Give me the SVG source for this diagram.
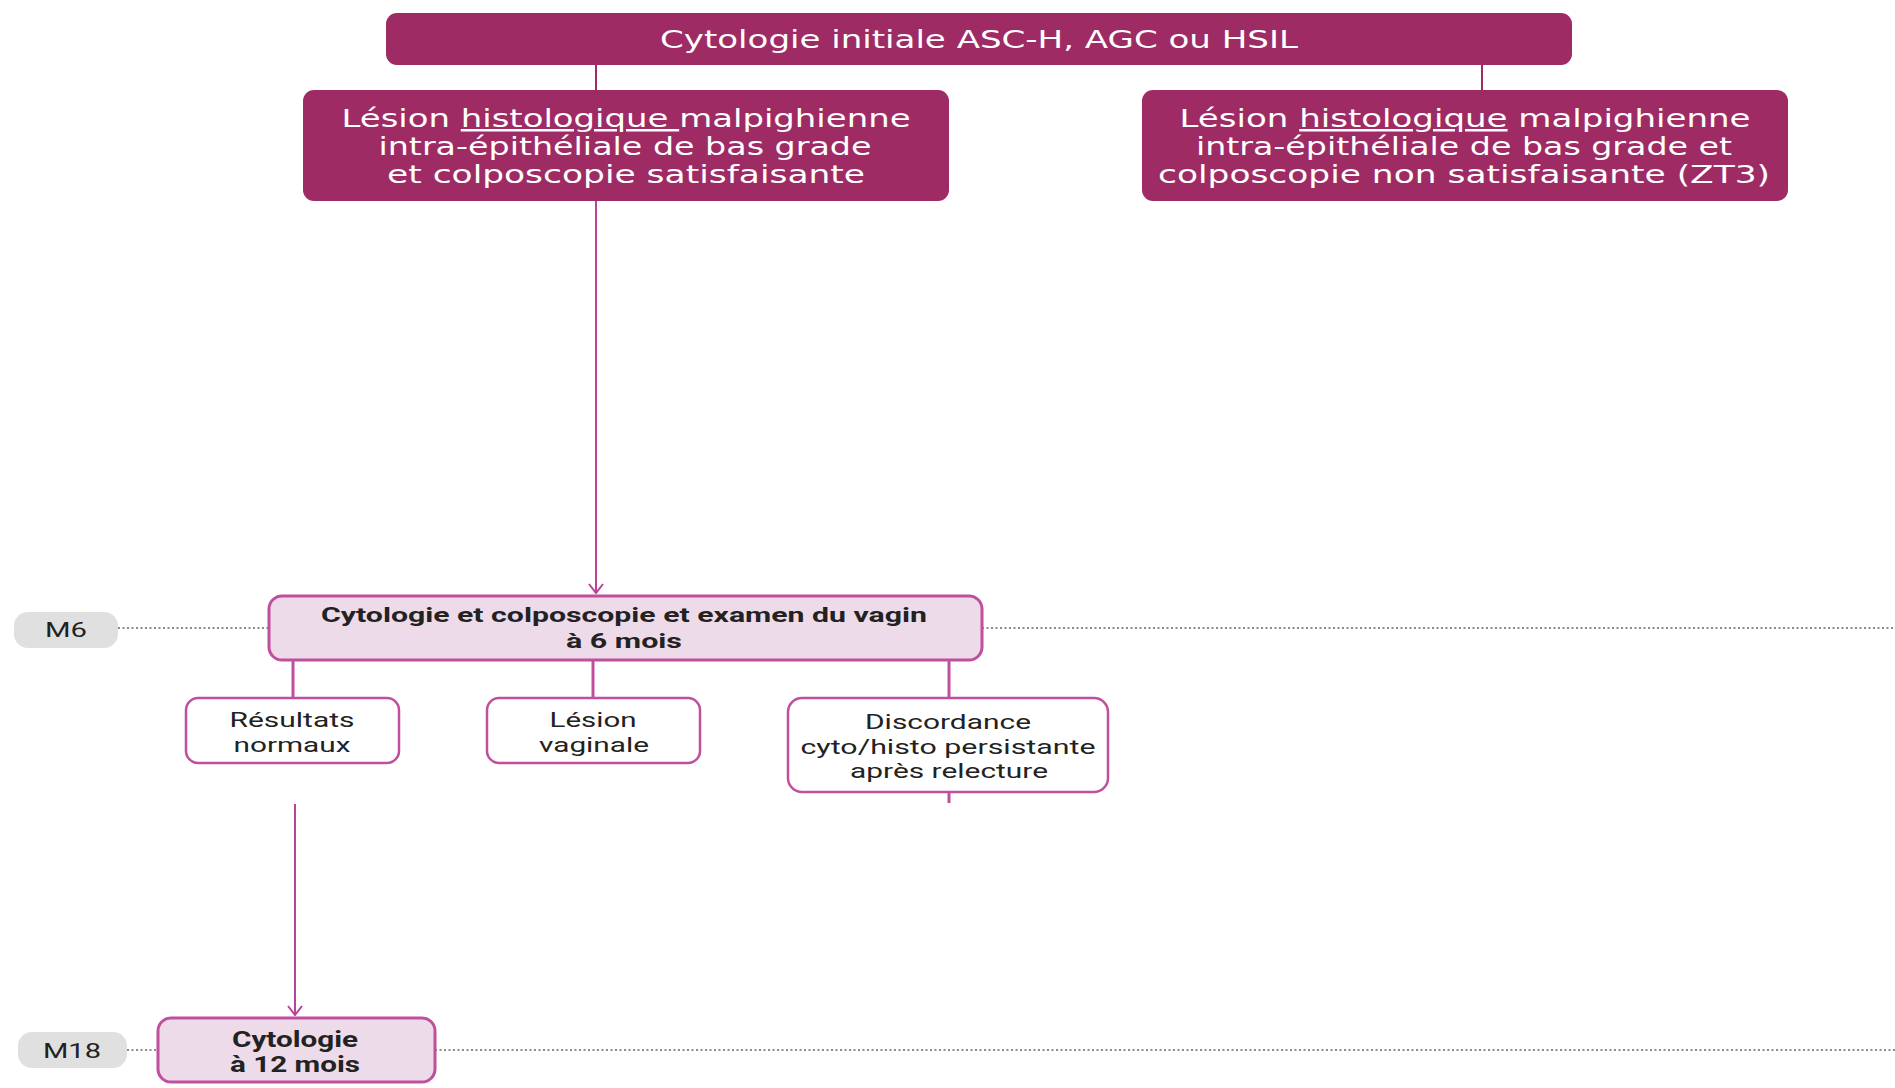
<svg xmlns="http://www.w3.org/2000/svg" width="1895" height="1088" viewBox="0 0 1895 1088">
<defs>
<style>
.dark{fill:#9e2b63;}
.wt{fill:#ffffff;font-family:"DejaVu Sans","Roboto",sans-serif;text-anchor:middle;}
.pk{fill:#eddbea;stroke:#c0509e;stroke-width:3;}
.wh{fill:#ffffff;stroke:#c0509e;stroke-width:2.5;}
.bk{fill:#222222;font-family:"Roboto","Liberation Sans",sans-serif;text-anchor:middle;}
.lab{fill:#e0e0e0;}
.dot{stroke:#666666;stroke-width:1.6;stroke-dasharray:2 2.5;fill:none;}
.c1{stroke:#9e2b63;stroke-width:2;fill:none;}
.c2{stroke:#c0509e;stroke-width:3;fill:none;}
.c3{stroke:#b8449a;stroke-width:2;fill:none;}
</style>
<marker id="arr" viewBox="0 0 16 11" refX="8" refY="10" markerWidth="16" markerHeight="11" markerUnits="userSpaceOnUse" orient="0">
<path d="M1 1 L8 10 L15 1" fill="none" stroke="#b8449a" stroke-width="2"/>
</marker>
</defs>
<rect width="1895" height="1088" fill="#ffffff"/>

<g id="timeline">
<line class="dot" x1="118" y1="628" x2="269" y2="628"/>
<line class="dot" x1="982" y1="628" x2="1895" y2="628"/>
<line class="dot" x1="127" y1="1050" x2="157" y2="1050"/>
<line class="dot" x1="435" y1="1050" x2="1895" y2="1050"/>
</g>

<g id="connectors">
<line class="c1" x1="596" y1="65" x2="596" y2="91"/>
<line class="c1" x1="1482" y1="65" x2="1482" y2="91"/>
<line class="c3" x1="596" y1="201" x2="596" y2="593" marker-end="url(#arr)"/>
<line class="c2" x1="293" y1="660" x2="293" y2="698"/>
<line class="c2" x1="593" y1="660" x2="593" y2="698"/>
<line class="c2" x1="949" y1="660" x2="949" y2="698"/>
<line class="c2" x1="949" y1="792" x2="949" y2="803"/>
<line class="c3" x1="295" y1="804" x2="295" y2="1015" marker-end="url(#arr)"/>
</g>

<g id="label-m6">
<rect class="lab" x="14" y="612" width="104" height="36" rx="14"/>
<text class="bk" x="66" y="637" font-size="21" textLength="42" lengthAdjust="spacingAndGlyphs">M6</text>
</g>
<g id="label-m18">
<rect class="lab" x="18" y="1032" width="109" height="36" rx="14"/>
<text class="bk" x="72" y="1058" font-size="21" textLength="58" lengthAdjust="spacingAndGlyphs">M18</text>
</g>

<g id="n-top">
<rect class="dark" x="386" y="13" width="1186" height="52" rx="11"/>
<text class="wt" x="979" y="48" font-size="24" textLength="638" lengthAdjust="spacingAndGlyphs">Cytologie initiale ASC-H, AGC ou HSIL</text>
</g>

<g id="n-left">
<rect class="dark" x="303" y="90" width="646" height="111" rx="11"/>
<text class="wt" x="626" y="127" font-size="25" textLength="569" lengthAdjust="spacingAndGlyphs">Lésion <tspan text-decoration="underline">histologique </tspan>malpighienne</text>
<text class="wt" x="625" y="155" font-size="25" textLength="493" lengthAdjust="spacingAndGlyphs">intra-épithéliale de bas grade</text>
<text class="wt" x="626" y="183" font-size="25" textLength="478" lengthAdjust="spacingAndGlyphs">et colposcopie satisfaisante</text>
</g>

<g id="n-right">
<rect class="dark" x="1142" y="90" width="646" height="111" rx="11"/>
<text class="wt" x="1465" y="127" font-size="25" textLength="571" lengthAdjust="spacingAndGlyphs">Lésion <tspan text-decoration="underline">histologique</tspan> malpighienne</text>
<text class="wt" x="1464" y="155" font-size="25" textLength="536" lengthAdjust="spacingAndGlyphs">intra-épithéliale de bas grade et</text>
<text class="wt" x="1464" y="183" font-size="25" textLength="612" lengthAdjust="spacingAndGlyphs">colposcopie non satisfaisante (ZT3)</text>
</g>

<g id="n-m6">
<rect class="pk" x="269" y="596" width="713" height="64" rx="13"/>
<text class="bk" x="624" y="622" font-size="21" font-weight="bold" textLength="606" lengthAdjust="spacingAndGlyphs">Cytologie et colposcopie et examen du vagin</text>
<text class="bk" x="624" y="648" font-size="21" font-weight="bold" textLength="116" lengthAdjust="spacingAndGlyphs">à 6 mois</text>
</g>

<g id="n-normaux">
<rect class="wh" x="186" y="698" width="213" height="65" rx="12"/>
<text class="bk" x="292" y="727" font-size="21" textLength="125" lengthAdjust="spacingAndGlyphs">Résultats</text>
<text class="bk" x="292" y="752" font-size="21" textLength="117" lengthAdjust="spacingAndGlyphs">normaux</text>
</g>

<g id="n-vaginale">
<rect class="wh" x="487" y="698" width="213" height="65" rx="12"/>
<text class="bk" x="593" y="727" font-size="21" textLength="87" lengthAdjust="spacingAndGlyphs">Lésion</text>
<text class="bk" x="594" y="752" font-size="21" textLength="110" lengthAdjust="spacingAndGlyphs">vaginale</text>
</g>

<g id="n-discordance">
<rect class="wh" x="788" y="698" width="320" height="94" rx="14"/>
<text class="bk" x="948" y="729" font-size="21" textLength="166" lengthAdjust="spacingAndGlyphs">Discordance</text>
<text class="bk" x="948" y="754" font-size="21" textLength="295" lengthAdjust="spacingAndGlyphs">cyto/histo persistante</text>
<text class="bk" x="949" y="778" font-size="21" textLength="198" lengthAdjust="spacingAndGlyphs">après relecture</text>
</g>

<g id="n-m18">
<rect class="pk" x="158" y="1018" width="277" height="64" rx="13"/>
<text class="bk" x="295" y="1047" font-size="22" font-weight="bold" textLength="126" lengthAdjust="spacingAndGlyphs">Cytologie</text>
<text class="bk" x="295" y="1072" font-size="22" font-weight="bold" textLength="130" lengthAdjust="spacingAndGlyphs">à 12 mois</text>
</g>
</svg>
